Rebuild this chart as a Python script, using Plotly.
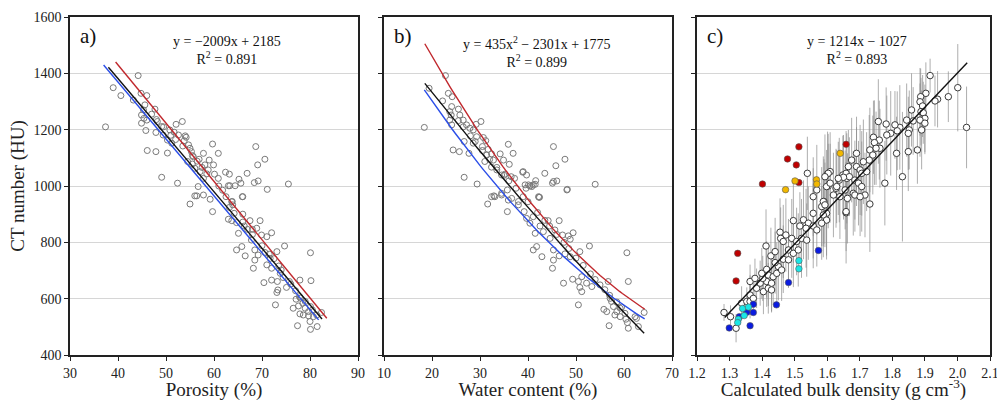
import numpy as np
import plotly.graph_objects as go

# ---------------- data ----------------
# Panel a: porosity (%) vs CT number (HU)
por_x = [44.2,39.0,40.6,43.2,44.8,46.0,45.6,45.3,47.7,44.9,45.4,46.0,44.9,48.2,45.8,47.9,49.1,50.8,52.1,53.4,
         37.4,49.4,51.7,52.6,54.0,50.3,53.8,54.2,51.2,54.7,55.0,46.1,47.9,50.3,55.3,57.8,59.7,60.9,55.7,56.9,
         54.5,55.5,59.0,59.9,58.1,56.0,57.1,58.8,62.4,63.2,60.1,60.9,49.1,52.4,57.8,56.7,63.0,64.4,65.2,65.6,
         56.0,56.4,57.8,59.2,63.8,65.9,55.0,66.9,63.3,68.7,69.1,70.6,68.4,69.2,71.1,75.5,66.0,
         59.7,63.7,63.2,63.9,64.2,66.0,63.0,63.7,64.7,67.5,69.6,66.3,65.1,68.0,68.9,69.9,71.0,72.0,67.8,
         64.7,65.8,66.5,68.5,68.5,68.2,69.2,70.6,71.7,73.1,74.7,71.0,72.0,70.4,72.0,73.2,73.8,74.4,73.1,
         73.3,75.1,72.8,75.7,77.9,80.1,80.2,77.1,77.8,76.5,77.6,78.5,79.0,79.7,80.1,77.9,78.6,79.7,80.7,
         81.4,80.0,81.5,80.1,77.4,82.4,
         47.0,48.0,49.5,51.0,52.0,53.5,55.5,56.5,57.5,58.5,61.0,61.8,62.5,66.0,67.0,68.0,70.0,71.5,72.5,
         73.5,74.0,76.0,77.0,78.0,79.0,80.5]
por_ct = [1392,1349,1321,1305,1329,1321,1288,1270,1273,1252,1240,1234,1223,1229,1197,1190,1211,1199,1219,1229,
          1210,1181,1191,1181,1178,1163,1161,1173,1152,1146,1134,1126,1122,1117,1122,1116,1149,1116,1104,1095,
          1087,1078,1092,1075,1075,1063,1051,1057,1049,1042,1042,1027,1031,1010,1027,998,1001,1001,1024,1010,
          965,965,968,953,945,962,936,1045,1001,1140,1075,1095,1012,1018,988,1007,962,
          909,944,924,933,903,900,882,877,870,877,877,858,832,846,850,826,820,834,808,
          773,785,752,773,737,708,755,764,743,767,787,720,708,657,666,661,690,675,622,
          631,640,578,661,666,763,664,598,607,566,574,584,566,554,572,546,542,539,536,
          542,519,501,491,504,551,
          1255,1236,1210,1180,1165,1142,1108,1088,1066,1043,1000,985,962,872,846,828,788,758,742,
          716,702,652,628,602,590,560]

# Panel b: water content (%) vs CT number (HU)
wat_x = [22.8,18.4,19.4,23.4,24.2,22.2,25.5,24.1,23.7,24.0,25.8,23.7,26.5,24.1,27.2,29.2,30.2,27.9,28.6,29.3,
         30.7,31.2,26.7,28.6,30.5,24.4,25.7,27.7,31.7,31.4,32.4,34.2,35.9,36.9,31.0,32.8,34.9,36.1,32.4,33.5,
         34.5,35.2,38.9,39.7,36.5,37.2,26.7,29.4,41.6,40.4,39.4,41.1,42.2,33.1,32.4,34.5,35.9,31.6,38.0,
         45.3,47.7,45.8,43.5,45.3,46.0,48.2,54.0,39.0,41.5,40.1,42.3,39.6,32.9,
         40.8,45.1,48.1,34.5,35.7,36.6,38.0,35.7,42.4,39.2,39.7,41.1,40.4,44.2,46.5,42.5,41.5,43.2,45.6,
         47.2,48.4,49.4,48.8,44.6,41.1,41.8,42.9,45.3,45.3,45.1,46.5,47.7,48.8,50.8,52.8,47.4,49.3,50.5,
         51.2,50.8,51.2,52.2,53.3,55.0,50.5,56.7,60.6,60.9,57.1,57.4,55.8,56.4,57.8,58.5,59.2,60.2,58.1,
         59.2,60.4,60.7,60.9,56.9,62.3,62.6,64.2,63.0,
         25.5,26.5,28.0,29.0,30.5,32.0,33.5,35.0,36.0,37.5,39.0,40.0,42.0,43.5,44.5,46.0,47.5,48.5,50.0,
         51.5,53.0,54.0,56.0,57.0,58.5,59.5]
wat_ct = [1392,1208,1347,1329,1317,1302,1273,1282,1264,1252,1252,1234,1234,1217,1217,1219,1229,1205,1199,1175,
          1172,1161,1158,1152,1140,1128,1122,1116,1130,1110,1114,1114,1148,1116,1087,1092,1092,1077,1067,1057,
          1039,1042,1049,1039,1033,1027,1031,1007,1019,1000,1004,1004,962,962,962,968,950,936,945,
          1140,1095,1072,1045,1016,1018,988,1006,1051,1006,1004,960,992,965,
          998,1010,986,974,986,956,933,909,960,909,885,891,868,877,877,858,832,838,844,
          826,823,834,811,814,773,785,749,773,737,708,752,759,749,767,787,655,669,661,
          678,640,625,655,643,649,578,661,763,661,601,590,562,554,572,554,566,548,542,
          536,527,515,495,504,536,530,551,501,
          1232,1210,1178,1158,1126,1094,1066,1038,1018,992,962,944,906,878,858,828,800,778,744,
          718,688,668,632,612,588,570]

# Panel c: calculated bulk density (g cm-3) vs CT number (HU), with error (HU)
den_x = [1.283,1.303,1.320,1.337,1.353,1.363,1.363,1.373,1.404,1.383,1.419,1.429,1.363,1.378,1.394,1.414,1.429,
         1.402,1.399,1.414,1.419,1.434,1.445,1.450,1.460,1.427,1.440,1.465,1.481,1.412,1.440,1.481,1.496,1.511,
         1.455,1.473,1.491,1.457,1.465,1.506,1.521,1.537,1.496,1.527,1.542,1.516,1.535,1.557,1.568,1.557,1.598,
         1.583,1.590,1.557,1.568,1.603,1.627,1.658,1.637,1.648,1.660,1.539,1.601,1.609,
         1.916,2.001,2.028,1.972,1.939,1.931,1.903,1.887,1.885,1.893,1.859,1.888,1.895,1.900,1.885,1.900,1.890,
         1.864,1.844,1.852,1.849,1.823,1.815,1.808,1.795,1.783,1.781,1.757,1.760,1.742,1.745,1.762,1.750,1.731,
         1.740,1.729,1.711,1.690,1.675,1.690,1.701,1.706,1.721,1.665,1.658,1.668,1.650,1.634,1.685,1.696,1.706,
         1.716,1.731,1.655,1.680,1.662,1.777,1.813,1.849,1.877,1.831,1.598,1.603,1.593,1.609,1.629,1.619,1.588,
         1.593,1.658,1.639,1.685,1.701,1.588,1.598,1.583]
den_ct = [551,536,495,584,590,590,613,601,625,637,637,631,661,672,655,661,655,
          672,690,704,684,678,690,714,702,752,728,740,738,787,767,773,761,773,
          836,826,814,814,803,803,814,808,877,880,868,858,850,858,844,903,903,
          927,945,962,986,1000,992,905,1021,1039,1027,1045,1043,1051,
          1392,1349,1208,1317,1308,1302,1329,1317,1299,1284,1270,1264,1260,1240,1234,1223,1199,
          1231,1234,1199,1187,1208,1196,1217,1187,1181,1220,1229,1163,1173,1154,1134,1134,1128,
          1110,1092,1086,1116,1092,1069,1057,1045,1051,1069,1045,1033,1031,1027,1021,1010,998,
          968,936,986,974,956,1010,1116,1122,1128,1033,998,1045,1033,1010,998,968,945,
          933,909,962,968,962,897,879,868]
den_err = [30,40,50,60,50,60,70,60,80,70,90,80,60,70,80,90,100,
           80,90,100,110,100,110,120,110,100,110,120,100,130,120,110,120,130,
           120,130,140,110,130,120,140,130,150,140,130,120,140,150,130,160,150,
           140,150,140,160,150,140,180,150,140,160,130,150,140,
           60,155,145,90,100,90,110,100,120,110,130,120,110,120,130,110,140,
           120,130,140,130,150,140,120,150,140,130,150,140,130,150,140,130,150,
           140,160,150,130,150,140,160,150,140,130,150,140,150,130,140,150,160,
           150,170,140,150,160,150,130,140,120,230,130,140,150,140,130,150,160,
           150,140,150,130,140,150,140,130]

red_x = [1.513,1.478,1.505,1.513,1.658,1.401,1.325,1.320]
red_ct = [1139,1096,1075,1012,1148,1007,761,663]
yel_x = [1.640,1.501,1.567,1.568,1.472]
yel_ct = [1116,1018,1022,1007,987]
blu_x = [1.573,1.481,1.444,1.373,1.373,1.353,1.330,1.299,1.363]
blu_ct = [771,657,578,580,551,552,536,496,504]
cya_x = [1.513,1.513,1.340,1.358,1.345,1.327,1.325]
cya_ct = [735,706,565,570,540,527,515]

# fit lines (coefficients as printed; x as fraction for a/b)
a_black = (-2009, 2185); a_red = (-2068, 2257); a_blue = (-2020, 2177)
b_black = (435, -2301, 1775); b_red = (2114, -3807, 2137); b_blue = (1580, -3078, 1854)
c_black = (1214, -1027)

FONT = "Liberation Serif"
fig = go.Figure()

# ---- panel a ----
fig.add_trace(go.Scatter(x=por_x, y=por_ct, mode="markers", xaxis="x", yaxis="y",
                         marker=dict(symbol="circle-open", size=6, color="#7a7a7a", line=dict(width=1)),
                         showlegend=False))
for (m, c0), col, xr in [(a_red, "#c0282d", (39.5, 83.5)), (a_blue, "#2b4ee8", (37.0, 81.8)),
                          (a_black, "#111111", (38.0, 82.5))]:
    xs = np.linspace(xr[0], xr[1], 50)
    fig.add_trace(go.Scatter(x=xs, y=m * xs / 100 + c0, mode="lines", xaxis="x", yaxis="y",
                             line=dict(color=col, width=1.4), showlegend=False))

# ---- panel b ----
fig.add_trace(go.Scatter(x=wat_x, y=wat_ct, mode="markers", xaxis="x2", yaxis="y2",
                         marker=dict(symbol="circle-open", size=6, color="#7a7a7a", line=dict(width=1)),
                         showlegend=False))
for (qa, qb, qc), col, xr in [(b_red, "#c0282d", (18.5, 64.3)), (b_blue, "#2b4ee8", (18.4, 64.3)),
                               (b_black, "#111111", (18.5, 64.2))]:
    xs = np.linspace(xr[0], xr[1], 80)
    w = xs / 100
    fig.add_trace(go.Scatter(x=xs, y=qa * w**2 + qb * w + qc, mode="lines", xaxis="x2", yaxis="y2",
                             line=dict(color=col, width=1.4), showlegend=False))

# ---- panel c ----
fig.add_trace(go.Scatter(x=den_x, y=den_ct, mode="markers", xaxis="x3", yaxis="y3",
                         error_y=dict(type="data", array=den_err, color="rgba(140,140,140,0.7)",
                                      thickness=1, width=0),
                         marker=dict(symbol="circle", size=6.5, color="white",
                                     line=dict(color="#3a3a3a", width=1)),
                         showlegend=False))
for xs_, ys_, col in [(red_x, red_ct, "#c00000"), (yel_x, yel_ct, "#f2b800"),
                      (blu_x, blu_ct, "#0a1be0"), (cya_x, cya_ct, "#19e6e6")]:
    fig.add_trace(go.Scatter(x=xs_, y=ys_, mode="markers", xaxis="x3", yaxis="y3",
                             marker=dict(symbol="circle", size=6.5, color=col,
                                         line=dict(color="#555555", width=0.6)),
                             showlegend=False))
xs = np.linspace(1.285, 2.03, 20)
fig.add_trace(go.Scatter(x=xs, y=c_black[0] * xs + c_black[1], mode="lines", xaxis="x3", yaxis="y3",
                         line=dict(color="#111111", width=1.4), showlegend=False))

W, H = 997, 401
doms = [(70 / W, 358 / W), (384 / W, 672 / W), (697 / W, 990 / W)]
ydom = (1 - 355 / H, 1 - 17 / H)

axis_common = dict(showline=True, linecolor="#222222", linewidth=1.5, mirror=True,
                   ticks="outside", ticklen=4, tickcolor="#222222", tickwidth=1.2,
                   tickfont=dict(family=FONT, size=14, color="#222222"), zeroline=False)

xtitles = ["Porosity (%)", "Water content (%)", "Calculated bulk density (g cm<sup>-3</sup>)"]
xranges = [[30, 90], [10, 70], [1.2, 2.1]]
xdticks = [10, 10, 0.1]
layout = dict(width=W, height=H, margin=dict(l=0, r=0, t=0, b=0),
              plot_bgcolor="white", paper_bgcolor="white", font=dict(family=FONT))
for i in range(3):
    sx = "" if i == 0 else str(i + 1)
    xa = dict(axis_common, domain=list(doms[i]), range=xranges[i], dtick=xdticks[i], tick0=xranges[i][0],
              showgrid=False, anchor="y" + sx, automargin=False, ticklabeloverflow="allow",
              title=dict(text=xtitles[i], font=dict(family=FONT, size=19, color="#222222"), standoff=6))
    if i == 2:
        xa["tickformat"] = ".1f"
    ya = dict(axis_common, domain=list(ydom), range=[400, 1600], dtick=200, tick0=400,
              showgrid=True, gridcolor="#d6d6d6", gridwidth=1, anchor="x" + sx, automargin=False,
              showticklabels=(i == 0))
    if i == 0:
        ya["title"] = dict(text="CT number (HU)", font=dict(family=FONT, size=19, color="#222222"), standoff=4)
    layout["xaxis" + sx] = xa
    layout["yaxis" + sx] = ya

fig.update_layout(**layout)

# panel labels and equations
labels = ["a)", "b)", "c)"]
eqs = ["y = \u22122009x + 2185<br>R<sup>2</sup> = 0.891",
       "y = 435x<sup>2</sup> \u2212 2301x + 1775<br>R<sup>2</sup> = 0.899",
       "y = 1214x \u2212 1027<br>R<sup>2</sup> = 0.893"]
eq_cx = [227, 537, 857]
for i in range(3):
    x0, x1 = doms[i]
    fig.add_annotation(xref="paper", yref="paper", x=x0 + 8 / W, y=1 - 22 / H, xanchor="left", yanchor="top",
                       text=labels[i], showarrow=False, font=dict(family=FONT, size=21, color="#111111"))
    fig.add_annotation(xref="paper", yref="paper", x=eq_cx[i] / W, y=1 - 32 / H, xanchor="center",
                       yanchor="top", text=eqs[i], showarrow=False,
                       font=dict(family=FONT, size=14, color="#111111"))

fig.write_html("out.html", config={"displayModeBar": False},
               post_script="document.body.style.margin='0px';document.body.style.padding='0px';")
